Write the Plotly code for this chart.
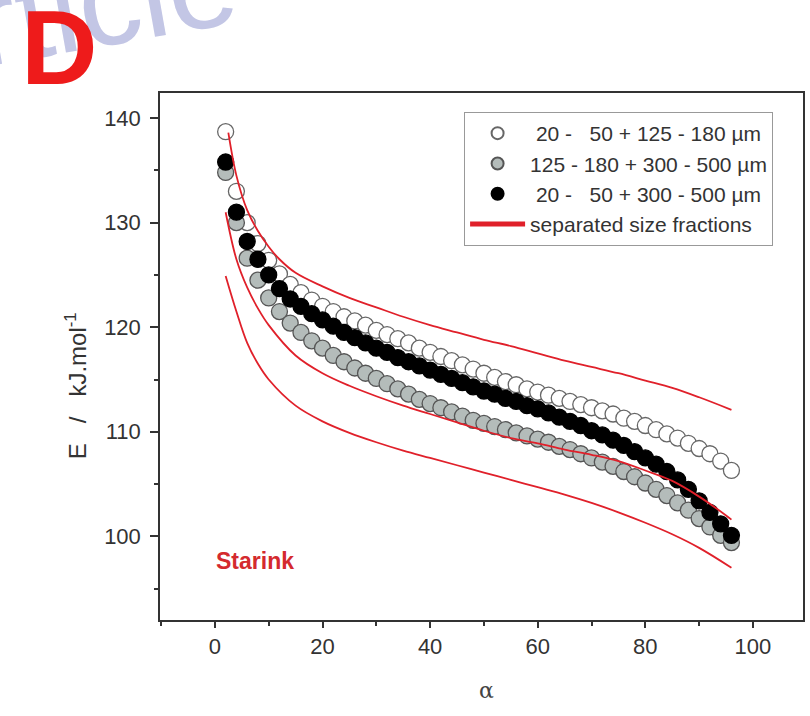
import plotly.graph_objects as go

# ---------------- data ----------------
alpha_pts = [2, 4, 6, 8, 10, 12, 14, 16, 18, 20, 22, 24, 26, 28, 30, 32, 34, 36, 38, 40,
             42, 44, 46, 48, 50, 52, 54, 56, 58, 60, 62, 64, 66, 68, 70, 72, 74, 76, 78, 80,
             82, 84, 86, 88, 90, 92, 94, 96]

E_open = [138.7, 133.0, 130.0, 128.0, 126.4, 125.1, 124.1, 123.3, 122.6, 122.0,
          121.5, 121.0, 120.6, 120.2, 119.7, 119.3, 118.9, 118.5, 118.0, 117.6,
          117.2, 116.8, 116.4, 116.0, 115.6, 115.2, 114.8, 114.5, 114.1, 113.8,
          113.5, 113.2, 112.9, 112.6, 112.3, 112.0, 111.7, 111.3, 111.0, 110.6,
          110.2, 109.8, 109.4, 108.9, 108.4, 107.9, 107.2, 106.3]

E_gray = [134.8, 130.0, 126.6, 124.5, 122.8, 121.5, 120.4, 119.5, 118.7, 118.0,
          117.3, 116.7, 116.1, 115.6, 115.1, 114.6, 114.1, 113.6, 113.1, 112.7,
          112.3, 111.9, 111.5, 111.1, 110.8, 110.5, 110.2, 109.9, 109.6, 109.3,
          109.0, 108.6, 108.3, 107.9, 107.5, 107.1, 106.7, 106.2, 105.7, 105.1,
          104.5, 103.9, 103.2, 102.5, 101.7, 100.9, 100.1, 99.4]

E_black = [135.8, 131.0, 128.2, 126.5, 125.0, 123.7, 122.7, 122.0, 121.3, 120.7,
           120.1, 119.5, 119.0, 118.5, 118.0, 117.6, 117.1, 116.7, 116.3, 115.9,
           115.5, 115.1, 114.7, 114.3, 113.9, 113.6, 113.2, 112.9, 112.5, 112.2,
           111.8, 111.4, 111.0, 110.6, 110.1, 109.7, 109.2, 108.7, 108.1, 107.5,
           106.9, 106.2, 105.4, 104.5, 103.4, 102.3, 101.2, 100.1]

# separated size fractions (red lines)
alpha_top = [2.5, 4, 6, 8, 10, 12, 15, 20, 25, 30, 35, 40, 45, 50, 55, 60, 65, 70, 75, 80, 85, 90, 96]
E_top = [138.6, 134.5, 131.2, 129.2, 127.7, 126.5, 125.2, 123.9, 122.8, 121.9, 121.0, 120.2,
         119.5, 118.8, 118.2, 117.5, 116.8, 116.2, 115.6, 114.9, 114.2, 113.3, 112.1]

alpha_mid = [2, 4, 6, 8, 10, 15, 20, 25, 30, 35, 40, 45, 50, 55, 60, 65, 70, 75, 80, 85, 90, 95, 96]
E_mid = [131.0, 126.5, 123.8, 121.8, 120.2, 117.3, 115.6, 114.4, 113.4, 112.5, 111.7, 110.9,
         110.1, 109.4, 108.9, 108.3, 107.8, 107.2, 106.3, 105.3, 103.8, 102.0, 101.6]

alpha_bot = [2, 4, 6, 8, 10, 15, 20, 25, 30, 35, 40, 45, 50, 55, 60, 65, 70, 75, 80, 85, 90, 96]
E_bot = [124.9, 121.5, 118.5, 116.5, 115.0, 112.5, 111.0, 109.9, 109.0, 108.2, 107.5, 106.8,
         106.1, 105.4, 104.7, 104.0, 103.2, 102.3, 101.3, 100.2, 98.9, 97.0]

legend_names = ["\u00a020 -\u00a0\u00a0\u00a050 + 125 - 180 \u00b5m",
                "125 - 180 + 300 - 500 \u00b5m",
                "\u00a020 -\u00a0\u00a0\u00a050 + 300 - 500 \u00b5m",
                "separated size fractions"]

x_ticks = [0, 20, 40, 60, 80, 100]
y_ticks = [100, 110, 120, 130, 140]

# ---------------- figure ----------------
FONT = "Arial, 'Liberation Sans', sans-serif"
RED = "#e0202a"

fig = go.Figure()

fig.add_trace(go.Scatter(x=alpha_pts, y=E_open, mode="markers", name=legend_names[0],
                         marker=dict(size=16, color="white", line=dict(color="#666666", width=1.3))))
fig.add_trace(go.Scatter(x=alpha_pts, y=E_gray, mode="markers", name=legend_names[1],
                         marker=dict(size=16, color="#b4bcba", line=dict(color="#555555", width=1.3))))
fig.add_trace(go.Scatter(x=alpha_pts, y=E_black, mode="markers", name=legend_names[2],
                         marker=dict(size=16, color="black", line=dict(color="black", width=1.3))))

for i, (ax, ey) in enumerate([(alpha_top, E_top), (alpha_mid, E_mid), (alpha_bot, E_bot)]):
    fig.add_trace(go.Scatter(x=ax, y=ey, mode="lines", name=legend_names[3],
                             line=dict(color=RED, width=1.8, shape="spline"),
                             showlegend=(i == 0), legendgroup="sep"))

axis_common = dict(showline=True, linecolor="#333333", linewidth=1.5, mirror=True,
                   ticks="outside", tickwidth=1.5, tickcolor="#333333",
                   showgrid=False, zeroline=False,
                   tickfont=dict(family=FONT, size=22, color="#333333"))

fig.update_xaxes(range=[-10.2, 109.3], tickvals=x_ticks, ticklen=6, ticklabelstandoff=0,
                 minor=dict(ticks="outside", ticklen=4, tickwidth=1.5, tickcolor="#333333", dtick=10, tick0=0),
                 **axis_common)
fig.update_yaxes(range=[92, 142.4], tickvals=y_ticks, ticklen=8, ticklabelstandoff=5,
                 minor=dict(ticks="outside", ticklen=4, tickwidth=1.5, tickcolor="#333333", dtick=5, tick0=0),
                 **axis_common)

L, R, T, B = 160, 5, 93, 96
W, H = 810, 716
pw, ph = W - L - R, H - T - B

def px(xp):
    return (xp - L) / pw

def py(yp):
    return (H - B - yp) / ph

annotations = [
    dict(text="rticle", x=px(105), y=py(1), xref="paper", yref="paper", showarrow=False,
         xanchor="center", yanchor="middle",
         textangle=-10, font=dict(family=FONT, size=125, color="#c3c6e5")),
    dict(text="<b>D</b>", x=px(59), y=py(47), xref="paper", yref="paper", showarrow=False,
         xanchor="center", yanchor="middle",
         font=dict(family=FONT, size=106, color="#ee1b1b")),
    dict(text="E\u00a0\u00a0\u00a0/\u00a0\u00a0\u00a0kJ.mol<sup>-1</sup>", x=px(76), y=py(386),
         xref="paper", yref="paper", xanchor="center", yanchor="middle",
         showarrow=False, textangle=-90, font=dict(family=FONT, size=24, color="#333333")),
    dict(text="\u03b1", x=px(488), y=py(690), xref="paper", yref="paper", showarrow=False,
         xanchor="center", yanchor="middle",
         font=dict(family="'DejaVu Serif', serif", size=22, color="#444444")),
    dict(text="<b>Starink</b>", x=7.5, y=97.6, xref="x", yref="y", showarrow=False,
         xanchor="center", yanchor="middle",
         font=dict(family=FONT, size=23, color="#d42a2e")),
]

fig.update_layout(
    width=W, height=H,
    margin=dict(l=L, r=R, t=T, b=B, pad=0),
    paper_bgcolor="white", plot_bgcolor="white",
    showlegend=True,
    legend=dict(x=px(775), y=py(112), xanchor="right", yanchor="top",
                bgcolor="white", bordercolor="#999999", borderwidth=1,
                font=dict(family=FONT, size=21, color="#333333"),
                itemsizing="constant", itemwidth=55, tracegroupgap=0),
    annotations=annotations,
)

fig.write_html("out.html")
